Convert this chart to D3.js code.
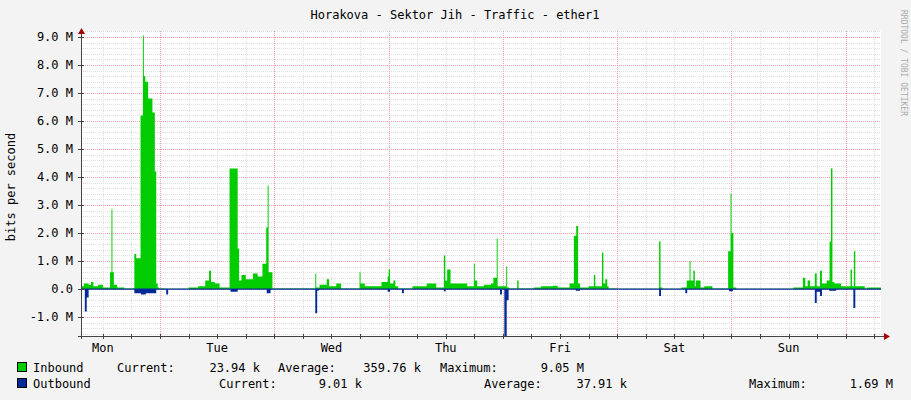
<!DOCTYPE html>
<html><head><meta charset="utf-8">
<script src="https://cdn.jsdelivr.net/npm/d3@7"></script>
<style>body{margin:0;background:#f3f3f3}text{font-family:"DejaVu Sans Mono",monospace}</style>
</head><body><div id="chart"></div>
<script>
// hours since Monday 00:00, values in Mbit/s
const dayLabels = ["Mon", "Tue", "Wed", "Thu", "Fri", "Sat", "Sun"];
const yTicks = [-1, 0, 1, 2, 3, 4, 5, 6, 7, 8, 9];
const inTimes = [7.4, 8.0, 9.0, 9.5, 10.0, 11.0, 12.0, 13.5, 13.8, 14.0, 14.3, 15.0, 16.5, 18.6, 19.0, 19.9, 20.4, 20.6, 20.9, 21.5, 22.4, 22.9, 23.2, 23.5, 23.8, 25.0, 30.0, 32.0, 33.5, 34.3, 34.7, 35.5, 36.5, 38.6, 40.3, 40.6, 41.1, 42.0, 43.5, 44.5, 45.5, 46.3, 46.6, 46.8, 47.6, 50.0, 56.6, 56.8, 57.5, 59.0, 59.5, 61.0, 62.0, 65.9, 66.1, 67.0, 70.5, 71.8, 72.0, 72.3, 73.0, 73.4, 74.0, 77.0, 80.0, 82.0, 83.6, 83.9, 84.3, 85.0, 88.5, 89.9, 90.1, 90.6, 92.0, 93.5, 94.0, 94.7, 94.9, 96.0, 96.7, 96.9, 97.3, 99.0, 99.3, 102.5, 104.0, 106.5, 107.5,
  110.0, 110.9, 111.4, 111.8, 112.2, 114.0, 115.1, 115.4, 116.8, 117.1, 117.5, 117.9, 118.2, 120.0,
  128.8, 129.1, 129.5, 133.5, 134.6, 135.2, 135.4, 136.0, 136.3, 136.5, 137.5, 138.3, 140.0,
  143.3, 143.8, 144.0, 144.4, 145.0, 157.0, 159.0, 159.5, 160.0, 160.5, 161.5, 161.9, 162.6, 163.0,
  164.0, 164.6, 164.9, 165.2, 165.6, 167.0, 169.0, 169.3, 169.7, 170.0, 172.0, 172.5, 175.4];
const inVals = [0.1, 0.2, 0.15, 0.25, 0.1, 0.15, 0.05, 0.6, 2.85, 0.6, 0.15, 0.05, 0.02, 1.25, 1.1, 6.2, 9.05, 7.6, 7.4, 6.8, 6.3, 4.2, 0.2, 0.05, 0.02, 0.01, 0.05, 0.1, 0.3, 0.65, 0.25, 0.2, 0.05, 4.3, 1.45, 0.3, 0.5, 0.35, 0.55, 0.45, 0.9, 2.2, 3.7, 0.6, 0.02, 0.02, 0.55, 0.05, 0.15, 0.35, 0.1, 0.2, 0.02, 0.6, 0.2, 0.1, 0.25, 0.45, 0.7, 0.2, 0.3, 0.1, 0.02, 0.1, 0.2, 0.05, 1.2, 0.3, 0.7, 0.2, 0.1, 0.9, 0.3, 0.1, 0.15, 0.2, 0.4, 1.8, 0.1, 0.1, 0.8, 0.05, 0.02, 0.3, 0.02, 0.05, 0.1, 0.12, 0.05,
  0.2, 1.9, 2.25, 0.2, 0.05, 0.1, 0.5, 0.1, 1.3, 0.2, 0.35, 0.1, 0.02, 0.01,
  1.7, 0.05, 0.01, 0.05, 0.3, 1.0, 0.3, 0.65, 0.1, 0.3, 0.05, 0.1, 0.02,
  1.35, 3.4, 2.0, 0.05, 0.01, 0.05, 0.4, 0.1, 0.3, 0.1, 0.55, 0.1, 0.65, 0.2,
  0.3, 1.7, 4.3, 0.25, 0.2, 0.1, 0.7, 0.1, 1.35, 0.1, 0.02, 0.05, 0.02];
const outTimes = [7.4, 8.2, 8.6, 9.0, 18.6, 20.0, 21.0, 23.2, 25.3, 25.7, 26.0, 38.8, 40.3, 46.4, 47.2, 47.7, 56.6, 57.0, 57.4, 71.8, 72.3, 74.8, 75.2, 83.6, 84.0, 95.4, 95.8, 96.3, 96.8, 97.2, 111.3, 112.2, 128.8, 129.2, 134.3, 134.7, 143.5, 144.3, 161.5, 161.9, 162.6, 163.0, 164.5, 166.0, 169.6, 170.0, 175.4];
const outVals = [0.02, 0.8, 0.3, 0.02, 0.15, 0.2, 0.15, 0.02, 0.2, 0.02, 0.02, 0.1, 0.02, 0.15, 0.02, 0.02, 0.87, 0.05, 0.02, 0.1, 0.02, 0.15, 0.02, 0.08, 0.02, 0.2, 0.02, 1.69, 0.4, 0.02, 0.06, 0.02, 0.25, 0.02, 0.15, 0.02, 0.08, 0.02, 0.5, 0.1, 0.25, 0.02, 0.06, 0.02, 0.68, 0.02, 0.02];

const W = 911, H = 400;
const svg = d3.select("#chart").append("svg").attr("width", W).attr("height", H);
const x = d3.scaleLinear().domain([7.4, 175.4]).range([81, 881]);
const y = d3.scaleLinear().domain([0, 9]).range([289, 37]);
const yTop = 31, yBot = 336;

svg.append("rect").attr("x", 81).attr("y", yTop).attr("width", 800).attr("height", yBot - yTop).attr("fill", "#fff");

const hline = (v, c) => svg.append("line").attr("x1", 81).attr("x2", 881)
  .attr("y1", Math.round(y(v)) + 0.5).attr("y2", Math.round(y(v)) + 0.5)
  .attr("stroke", c).attr("stroke-dasharray", "1,1");
const vline = (h, c) => svg.append("line").attr("y1", yTop).attr("y2", yBot)
  .attr("x1", Math.round(x(h)) + 0.5).attr("x2", Math.round(x(h)) + 0.5)
  .attr("stroke", c).attr("stroke-dasharray", "1,1");

// minor grid
d3.range(-16, 93, 2).forEach(v => hline(v / 10, "#dedede"));
d3.range(12, 176, 6).forEach(h => vline(h, "#dedede"));
// major grid
yTicks.forEach(v => hline(v, "#f2a0a0"));
d3.range(24, 176, 24).forEach(h => vline(h, "#f2a0a0"));

const inData = inTimes.map((t, i) => [t, inVals[i]]);
const outData = outTimes.map((t, i) => [t, -outVals[i]]);
const area = d3.area().curve(d3.curveStepAfter).x(d => x(d[0])).y0(y(0)).y1(d => y(d[1]));
svg.append("path").attr("d", area(inData)).attr("fill", "#00cc00");
svg.append("path").attr("d", area(outData)).attr("fill", "#002a97");
svg.append("line").attr("x1", 81).attr("x2", 881).attr("y1", y(0)).attr("y2", y(0)).attr("stroke", "#002a97");

// axes
svg.append("line").attr("x1", 81.5).attr("x2", 81.5).attr("y1", 339).attr("y2", 30).attr("stroke", "#444");
svg.append("line").attr("x1", 78).attr("x2", 884).attr("y1", 336.5).attr("y2", 336.5).attr("stroke", "#444");
svg.append("path").attr("d", "M78,34 L81.5,28 L85,34Z").attr("fill", "#a00");
svg.append("path").attr("d", "M884,333 L890,336.5 L884,340Z").attr("fill", "#a00");
yTicks.forEach(v => {
  svg.append("line").attr("x1", 78).attr("x2", 84).attr("y1", Math.round(y(v)) + 0.5).attr("y2", Math.round(y(v)) + 0.5).attr("stroke", "#444");
});
d3.range(12, 176, 6).forEach(h => {
  svg.append("line").attr("y1", 334).attr("y2", 339).attr("x1", Math.round(x(h)) + 0.5).attr("x2", Math.round(x(h)) + 0.5).attr("stroke", "#444");
});

const txt = (s, px, py, anchor, size, fill) => svg.append("text").attr("x", px).attr("y", py)
  .attr("text-anchor", anchor || "start").attr("font-size", size || 12).attr("fill", fill || "#000")
  .attr("xml:space", "preserve").text(s);

yTicks.forEach(v => txt(v === 0 ? "0.0" : (v < 0 ? "-" : "") + Math.abs(v).toFixed(1) + " M", 73, y(v) + 4, "end"));
dayLabels.forEach((d, i) => txt(d, x(12 + 24 * i), 352, "middle"));
txt("Horakova - Sektor Jih - Traffic - ether1", 455, 19, "middle");
svg.append("text").attr("transform", "translate(15,187) rotate(-90)").attr("text-anchor", "middle")
  .attr("font-size", 12).text("bits per second");
svg.append("text").attr("transform", "translate(901,10) rotate(90)").attr("font-size", 8)
  .attr("fill", "#aaa").text("RRDTOOL / TOBI OETIKER");

// legend
svg.append("rect").attr("x", 17.5).attr("y", 362.5).attr("width", 9).attr("height", 9).attr("fill", "#00cc00").attr("stroke", "#000");
svg.append("rect").attr("x", 17.5).attr("y", 378.5).attr("width", 9).attr("height", 9).attr("fill", "#002a97").attr("stroke", "#000");
txt("Inbound", 33, 372); txt("Current:", 117, 372); txt("23.94 k", 260, 372, "end");
txt("Average:", 278, 372); txt("359.76 k", 421, 372, "end");
txt("Maximum:", 440, 372); txt("9.05 M", 584, 372, "end");
txt("Outbound", 33, 388); txt("Current:", 219, 388); txt("9.01 k", 362, 388, "end");
txt("Average:", 484, 388); txt("37.91 k", 627, 388, "end");
txt("Maximum:", 749, 388); txt("1.69 M", 893, 388, "end");
</script></body></html>
